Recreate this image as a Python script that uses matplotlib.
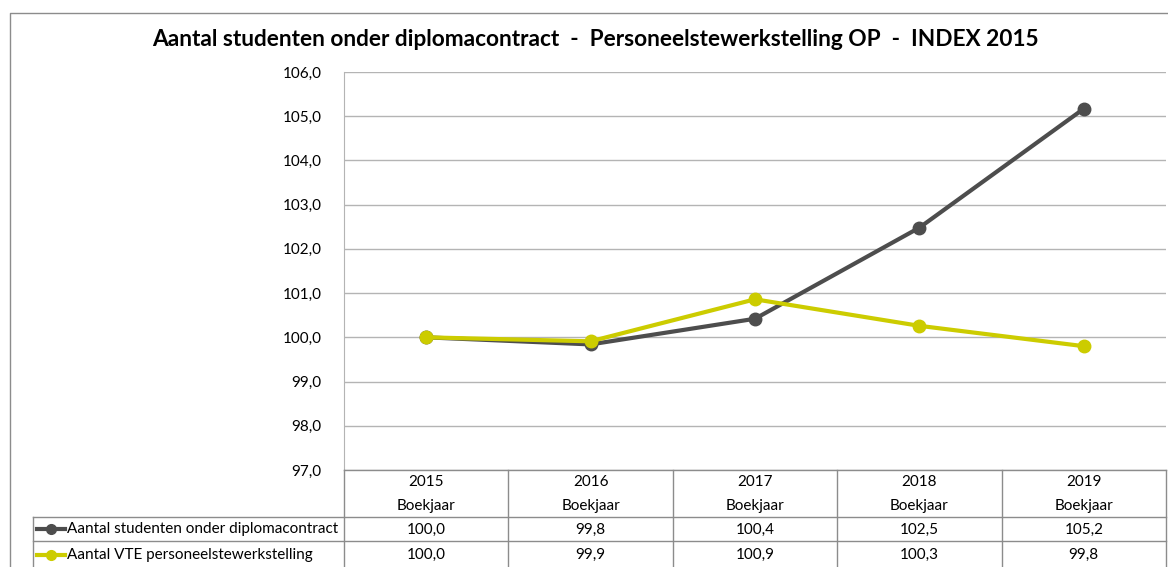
import numpy as np
import matplotlib.pyplot as plt
from matplotlib.lines import Line2D

plt.rcParams['font.family'] = ['Lato', 'DejaVu Sans']

# data
years = ['2015', '2016', '2017', '2018', '2019']
sub_label = 'Boekjaar'
studenten = [100.0, 99.84, 100.42, 102.48, 105.17]
vte = [100.0, 99.91, 100.86, 100.26, 99.80]
series_names = ['Aantal studenten onder diplomacontract', 'Aantal VTE personeelstewerkstelling']
yticks = np.arange(97, 107, 1)

title = 'Aantal studenten onder diplomacontract  -  Personeelstewerkstelling OP  -  INDEX 2015'

W, H = 1168, 567
fig = plt.figure(figsize=(W / 100, H / 100), dpi=100)

# axes in pixel terms
ax_l, ax_r, ax_t, ax_b = 344, 1166, 72, 470
ax = fig.add_axes([ax_l / W, 1 - ax_b / H, (ax_r - ax_l) / W, (ax_b - ax_t) / H])

dark = '#4d4d4d'
yellow = '#cccc00'
grid_c = '#b4b4b4'
x = np.arange(len(years))

ax.plot(x, studenten, color=dark, lw=3, marker='o', ms=9, zorder=3, solid_capstyle='round')
ax.plot(x, vte, color=yellow, lw=3, marker='o', ms=9, zorder=4, solid_capstyle='round')

ax.set_xlim(-0.5, len(years) - 0.5)
ax.set_ylim(97, 106)
ax.set_yticks(yticks)
ax.set_yticklabels([f'{v:.1f}'.replace('.', ',') for v in yticks], fontsize=11)
ax.tick_params(axis='y', length=0, pad=16)
ax.set_xticks([])
ax.yaxis.grid(True, color=grid_c, lw=1)
ax.set_axisbelow(True)
for s in ['top', 'right', 'bottom']:
    ax.spines[s].set_visible(False)
ax.spines['left'].set_color(grid_c)

fig.text(595 / W, 1 - 40 / H, title, ha='center', va='center', fontsize=16.3, fontweight='bold')

# figure pixel helper
def px(xp, yp):
    return xp / W, 1 - yp / H

def hline(y, x0, x1):
    fig.add_artist(Line2D([x0 / W, x1 / W], [1 - y / H, 1 - y / H], color='#8c8c8c', lw=1))

def vline(xp, y0, y1):
    fig.add_artist(Line2D([xp / W, xp / W], [1 - y0 / H, 1 - y1 / H], color='#8c8c8c', lw=1))

# chart border (left and top visible)
fig.add_artist(Line2D([10 / W, 10 / W, 1.01], [-0.01, 1 - 13 / H, 1 - 13 / H], color='#8c8c8c', lw=1))

# data table
col_w = (ax_r - ax_l) / len(years)
bottom = 570
hline(470, ax_l, ax_r)
hline(517, 33, ax_r)
hline(541, 33, ax_r)
for i in range(len(years) + 1):
    vline(ax_l + i * col_w, 470, bottom)
vline(33, 517, bottom)

fs = 11
for i, yr in enumerate(years):
    cx = ax_l + (i + 0.5) * col_w
    fig.text(*px(cx, 482), yr, ha='center', va='center', fontsize=fs)
    fig.text(*px(cx, 506), sub_label, ha='center', va='center', fontsize=fs)
    fig.text(*px(cx, 530), f'{studenten[i]:.1f}'.replace('.', ','), ha='center', va='center', fontsize=fs)
    fig.text(*px(cx, 555), f'{vte[i]:.1f}'.replace('.', ','), ha='center', va='center', fontsize=fs)

for yp, name, c in [(529, series_names[0], dark), (555, series_names[1], yellow)]:
    fig.add_artist(Line2D([37 / W, 65 / W], [1 - yp / H] * 2, color=c, lw=3))
    fig.add_artist(Line2D([51 / W], [1 - yp / H], color=c, marker='o', ms=7))
    fig.text(*px(67, yp), name, ha='left', va='center', fontsize=fs)

fig.savefig('out.png', dpi=100)
